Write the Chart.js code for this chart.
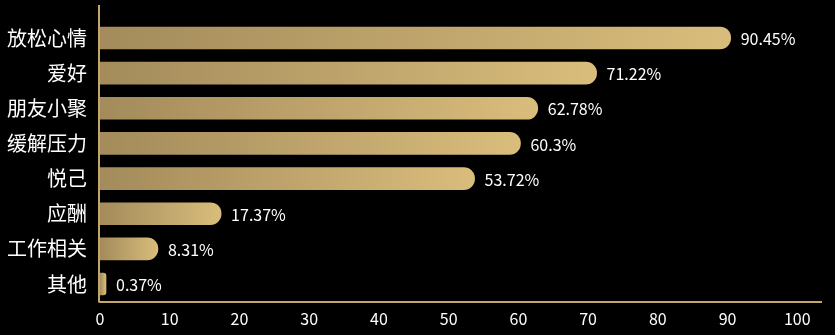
<!DOCTYPE html>
<html>
<head>
<meta charset="utf-8">
<script src="https://cdn.jsdelivr.net/npm/chart.js@4/dist/chart.umd.min.js"></script>
<style>
  html, body { margin: 0; padding: 0; background: #000; }
  #wrap { width: 835px; height: 335px; }
</style>
</head>
<body>
<div id="wrap"><canvas id="c" width="835" height="335"></canvas></div>
<script>
const categories = ['放松心情', '爱好', '朋友小聚', '缓解压力', '悦己', '应酬', '工作相关', '其他'];
const values = [90.45, 71.22, 62.78, 60.3, 53.72, 17.37, 8.31, 0.37];
const xTicks = [0, 10, 20, 30, 40, 50, 60, 70, 80, 90, 100];

const FONT = "'Noto Sans CJK SC', 'Noto Sans', sans-serif";
const GOLD_DARK = '#A38B5B';
const GOLD_LIGHT = '#D9BD7C';
const AXIS_GOLD = '#C4A56A';

function barGradient(context) {
  const chart = context.chart;
  const area = chart.chartArea;
  if (!area || context.type !== 'data') return GOLD_DARK;
  const xs = chart.scales.x;
  const x0 = xs.getPixelForValue(0);
  const x1 = xs.getPixelForValue(values[context.dataIndex]);
  const g = chart.ctx.createLinearGradient(x0, 0, Math.max(x1, x0 + 6), 0);
  g.addColorStop(0, GOLD_DARK);
  g.addColorStop(1, GOLD_LIGHT);
  return g;
}

const valueLabels = {
  id: 'valueLabels',
  afterDatasetsDraw(chart) {
    const ctx = chart.ctx;
    const meta = chart.getDatasetMeta(0);
    ctx.save();
    ctx.fillStyle = '#ffffff';
    ctx.font = '16px ' + FONT;
    ctx.textAlign = 'left';
    ctx.textBaseline = 'middle';
    meta.data.forEach((el, i) => {
      ctx.fillText(values[i] + '%', el.x + 10, el.y + 1);
    });
    ctx.restore();
  }
};

const yAxisLine = {
  id: 'yAxisLine',
  afterDraw(chart) {
    const ctx = chart.ctx;
    const a = chart.chartArea;
    ctx.save();
    ctx.strokeStyle = AXIS_GOLD;
    ctx.lineWidth = 2;
    ctx.beginPath();
    ctx.moveTo(a.left - 1, 5);
    ctx.lineTo(a.left - 1, a.bottom + 1);
    ctx.stroke();
    ctx.restore();
  }
};

new Chart(document.getElementById('c'), {
  type: 'bar',
  data: {
    labels: categories,
    datasets: [{
      data: values,
      backgroundColor: barGradient,
      borderRadius: 11,
      borderSkipped: 'start',
      barThickness: 22,
      minBarLength: 6
    }]
  },
  options: {
    indexAxis: 'y',
    responsive: false,
    animation: false,
    layout: { padding: { top: 20.4, right: 14, left: 0, bottom: 0 } },
    plugins: { legend: { display: false }, tooltip: { enabled: false } },
    scales: {
      x: {
        min: 0,
        max: 103.4,
        grid: { display: false, drawTicks: false },
        border: { display: true, color: AXIS_GOLD, width: 2 },
        ticks: {
          color: '#ffffff',
          font: { size: 16, family: FONT },
          padding: 8,
          maxRotation: 0,
          autoSkip: false
        },
        afterBuildTicks(scale) {
          scale.ticks = xTicks.map(v => ({ value: v }));
        },
        afterFit(scale) {
          scale.height = 33.4;
          scale.paddingLeft = 0;
          scale.paddingRight = 0;
        }
      },
      y: {
        grid: { display: false, drawTicks: false },
        border: { display: false },
        ticks: {
          color: '#ffffff',
          font: { size: 20, family: FONT },
          padding: 13
        },
        afterFit(scale) {
          scale.width = 100;
          scale.paddingTop = 0;
          scale.paddingBottom = 0;
        }
      }
    }
  },
  plugins: [valueLabels, yAxisLine]
});
</script>
</body>
</html>
